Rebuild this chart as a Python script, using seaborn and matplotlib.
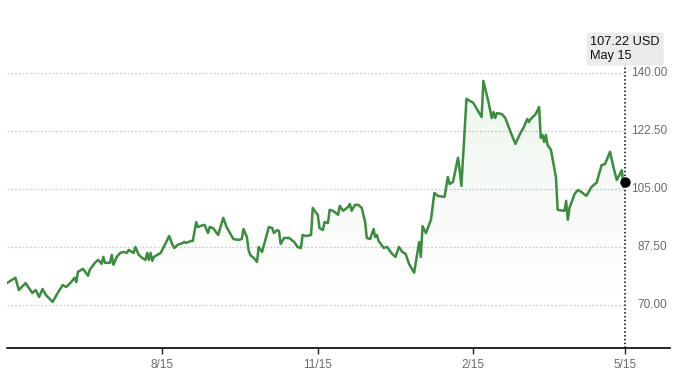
import numpy as np
import pandas as pd
import matplotlib
matplotlib.use("Agg")
import matplotlib.pyplot as plt
import matplotlib.dates as mdates
import matplotlib.transforms as mtransforms
import seaborn as sns

# price history (USD)
dates = [
    "2023-05-15", "2023-05-20", "2023-05-22", "2023-05-26", "2023-05-30", "2023-06-01",
    "2023-06-03", "2023-06-05", "2023-06-07", "2023-06-11", "2023-06-14", "2023-06-17",
    "2023-06-19", "2023-06-22", "2023-06-24", "2023-06-25", "2023-06-26", "2023-06-29",
    "2023-07-02", "2023-07-03", "2023-07-06", "2023-07-08", "2023-07-10", "2023-07-11",
    "2023-07-12", "2023-07-15", "2023-07-16", "2023-07-17", "2023-07-19", "2023-07-21",
    "2023-07-23", "2023-07-25", "2023-07-26", "2023-07-29", "2023-07-30", "2023-08-01",
    "2023-08-03", "2023-08-05", "2023-08-06", "2023-08-07", "2023-08-08", "2023-08-09",
    "2023-08-10", "2023-08-12", "2023-08-14", "2023-08-17", "2023-08-19", "2023-08-21",
    "2023-08-22", "2023-08-24", "2023-08-27", "2023-08-28", "2023-08-29", "2023-09-01",
    "2023-09-02", "2023-09-04", "2023-09-05", "2023-09-08", "2023-09-09", "2023-09-11",
    "2023-09-12", "2023-09-14", "2023-09-17", "2023-09-20", "2023-09-22", "2023-09-24",
    "2023-09-26", "2023-09-29", "2023-10-01", "2023-10-02", "2023-10-04", "2023-10-05",
    "2023-10-06", "2023-10-08", "2023-10-10", "2023-10-11", "2023-10-13", "2023-10-17",
    "2023-10-19", "2023-10-20", "2023-10-22", "2023-10-23", "2023-10-24", "2023-10-26",
    "2023-10-29", "2023-11-01", "2023-11-03", "2023-11-05", "2023-11-06", "2023-11-08",
    "2023-11-11", "2023-11-12", "2023-11-14", "2023-11-15", "2023-11-16", "2023-11-18",
    "2023-11-19", "2023-11-21", "2023-11-22", "2023-11-24", "2023-11-27", "2023-11-28",
    "2023-11-30", "2023-12-03", "2023-12-04", "2023-12-05", "2023-12-07", "2023-12-09",
    "2023-12-11", "2023-12-13", "2023-12-14", "2023-12-16", "2023-12-18", "2023-12-19",
    "2023-12-20", "2023-12-21", "2023-12-24", "2023-12-26", "2023-12-29", "2023-12-31",
    "2024-01-02", "2024-01-04", "2024-01-06", "2024-01-08", "2024-01-11", "2024-01-14",
    "2024-01-15", "2024-01-16", "2024-01-18", "2024-01-21", "2024-01-23", "2024-01-25",
    "2024-01-29", "2024-01-31", "2024-02-01", "2024-02-03", "2024-02-06", "2024-02-07",
    "2024-02-08", "2024-02-11", "2024-02-13", "2024-02-15", "2024-02-20", "2024-02-21",
    "2024-02-24", "2024-02-26", "2024-02-27", "2024-02-28", "2024-02-29", "2024-03-03",
    "2024-03-05", "2024-03-07", "2024-03-10", "2024-03-11", "2024-03-12", "2024-03-14",
    "2024-03-16", "2024-03-18", "2024-03-19", "2024-03-20", "2024-03-23", "2024-03-25",
    "2024-03-26", "2024-03-27", "2024-03-28", "2024-03-29", "2024-03-30", "2024-04-01",
    "2024-04-03", "2024-04-04", "2024-04-05", "2024-04-09", "2024-04-10", "2024-04-11",
    "2024-04-12", "2024-04-15", "2024-04-17", "2024-04-19", "2024-04-22", "2024-04-25",
    "2024-04-27", "2024-04-28", "2024-05-01", "2024-05-03", "2024-05-06", "2024-05-08",
    "2024-05-10", "2024-05-13", "2024-05-14", "2024-05-15",
]
prices = [
    76.6, 78.2, 74.5, 76.6, 73.6, 74.5,
    72.4, 74.8, 73.0, 70.9, 73.6, 76.0,
    75.4, 76.9, 78.2, 76.9, 80.0, 80.9,
    78.8, 80.6, 82.7, 83.6, 82.4, 84.5,
    82.7, 82.7, 85.1, 82.1, 84.5, 85.7,
    86.0, 85.7, 86.6, 85.7, 87.5, 85.1,
    84.2, 83.6, 85.7, 83.6, 85.7, 83.3,
    84.5, 85.1, 85.7, 88.7, 90.8, 88.1,
    87.2, 88.1, 88.7, 89.0, 88.7, 89.3,
    89.3, 95.0, 93.5, 94.1, 94.1, 91.7,
    93.5, 93.2, 91.1, 96.3, 93.5, 91.7,
    89.9, 89.6, 89.9, 92.9, 90.5, 86.6,
    85.1, 84.2, 83.0, 87.5, 86.0, 93.5,
    93.2, 91.7, 92.6, 92.3, 88.4, 90.2,
    90.2, 89.0, 87.5, 87.2, 91.1, 90.8,
    91.1, 99.3, 97.8, 97.2, 93.2, 92.6,
    95.0, 94.7, 98.7, 98.4, 97.2, 99.9,
    98.4, 99.6, 100.5, 98.4, 100.2, 100.2,
    99.3, 95.0, 90.2, 89.9, 92.9, 90.5,
    91.1, 89.3, 87.2, 87.5, 85.4, 84.5,
    87.5, 86.0, 85.4, 82.4, 79.7, 89.0,
    84.5, 93.8, 91.7, 95.7, 103.8, 102.9,
    102.6, 108.6, 106.5, 107.1, 114.4, 110.7,
    105.9, 132.2, 131.6, 131.0, 126.7, 137.6,
    131.3, 126.4, 128.2, 126.4, 127.9, 127.6,
    126.4, 123.7, 119.8, 118.6, 119.8, 121.9,
    123.7, 126.1, 125.2, 126.1, 127.6, 129.7,
    120.4, 121.3, 119.2, 121.3, 118.3, 116.8,
    111.3, 108.3, 98.7, 98.4, 101.4, 95.7,
    99.3, 103.5, 104.7, 104.1, 102.9, 105.6,
    106.5, 106.8, 112.2, 112.5, 116.2, 111.6,
    107.7, 110.7, 105.6, 107.22,
]
y_ticks = [70.0, 87.5, 105.0, 122.5, 140.0]
x_tick_dates = ["2023-08-15", "2023-11-15", "2024-02-15", "2024-05-15"]
x_tick_labels = ["8/15", "11/15", "2/15", "5/15"]
currency = "USD"

sns.set_theme(style="white")
plt.rcParams["font.family"] = ["Liberation Sans", "DejaVu Sans"]

df = pd.DataFrame({"date": pd.to_datetime(dates), "price": prices})
line_color = "#3b8c3f"
y_min, y_max = 57.0, 157.5
x_start = df["date"].iloc[0]
x_end = pd.Timestamp("2024-06-10 12:00")
last_date = df["date"].iloc[-1]
last_price = df["price"].iloc[-1]

fig = plt.figure(figsize=(6.8, 3.78), dpi=100)
ax = fig.add_axes([7 / 680, 30 / 378, 663 / 680, 333 / 378])

sns.lineplot(data=df, x="date", y="price", ax=ax, color=line_color,
             linewidth=1.8, zorder=3)

# soft green gradient under the line
fill = ax.fill_between(df["date"], df["price"], y_min, color="none", linewidth=0)
grad = np.zeros((256, 1, 4))
grad[:, 0, :3] = matplotlib.colors.to_rgb(line_color)
levels = np.linspace(y_min, 140, 256)
grad[:, 0, 3] = np.clip((levels - 70) / 70, 0, 1) * 0.09
im = ax.imshow(grad, origin="lower", aspect="auto", zorder=2,
               extent=[mdates.date2num(x_start), mdates.date2num(last_date), y_min, 140])
im.set_clip_path(fill.get_paths()[0], transform=ax.transData)

ax.set_xlim(x_start, x_end)
ax.set_ylim(y_min, y_max)

# dotted grid, stopping at the last data point
ax.hlines(y_ticks, x_start, last_date, colors="#cdcdcd",
          linestyles=(0, (1.5, 1.5)), linewidth=0.9, zorder=1)
trans = mtransforms.blended_transform_factory(ax.transAxes, ax.transData)
for v in y_ticks:
    ax.text(0.996, v, f"{v:.2f}", transform=trans, ha="right", va="center",
            fontsize=8.5, color="#6b6b6b")

ax.set_yticks([])
ax.set_xticks(pd.to_datetime(x_tick_dates))
ax.set_xticklabels(x_tick_labels)
ax.tick_params(axis="x", bottom=True, length=4, width=1, color="#222222",
               pad=4, labelsize=8.5, labelcolor="#6b6b6b")
ax.set_xlabel("")
ax.set_ylabel("")
for side in ["top", "left", "right"]:
    ax.spines[side].set_visible(False)
ax.spines["bottom"].set_color("black")
ax.spines["bottom"].set_linewidth(1.2)

# hover marker for the last point
ax.axvline(last_date, ymin=0, ymax=(348 - 65) / 333, color="black",
           linestyle=(0, (1, 1.5)), linewidth=1.1, zorder=4)
ax.scatter([last_date], [last_price], s=42, color="black", zorder=5)
trans2 = mtransforms.blended_transform_factory(ax.transData, ax.transAxes)
ax.text(last_date, (348 - 49) / 333,
        f"{last_price:.2f} {currency}\n{last_date.strftime('%b')} {last_date.day}",
        transform=trans2, ha="center", va="center", multialignment="left",
        fontsize=9.2, color="#111111", linespacing=1.15, zorder=6,
        bbox=dict(boxstyle="round,pad=0.3,rounding_size=0.2", fc="#ebebeb", ec="none"))

fig.savefig("out.png", dpi=100)
